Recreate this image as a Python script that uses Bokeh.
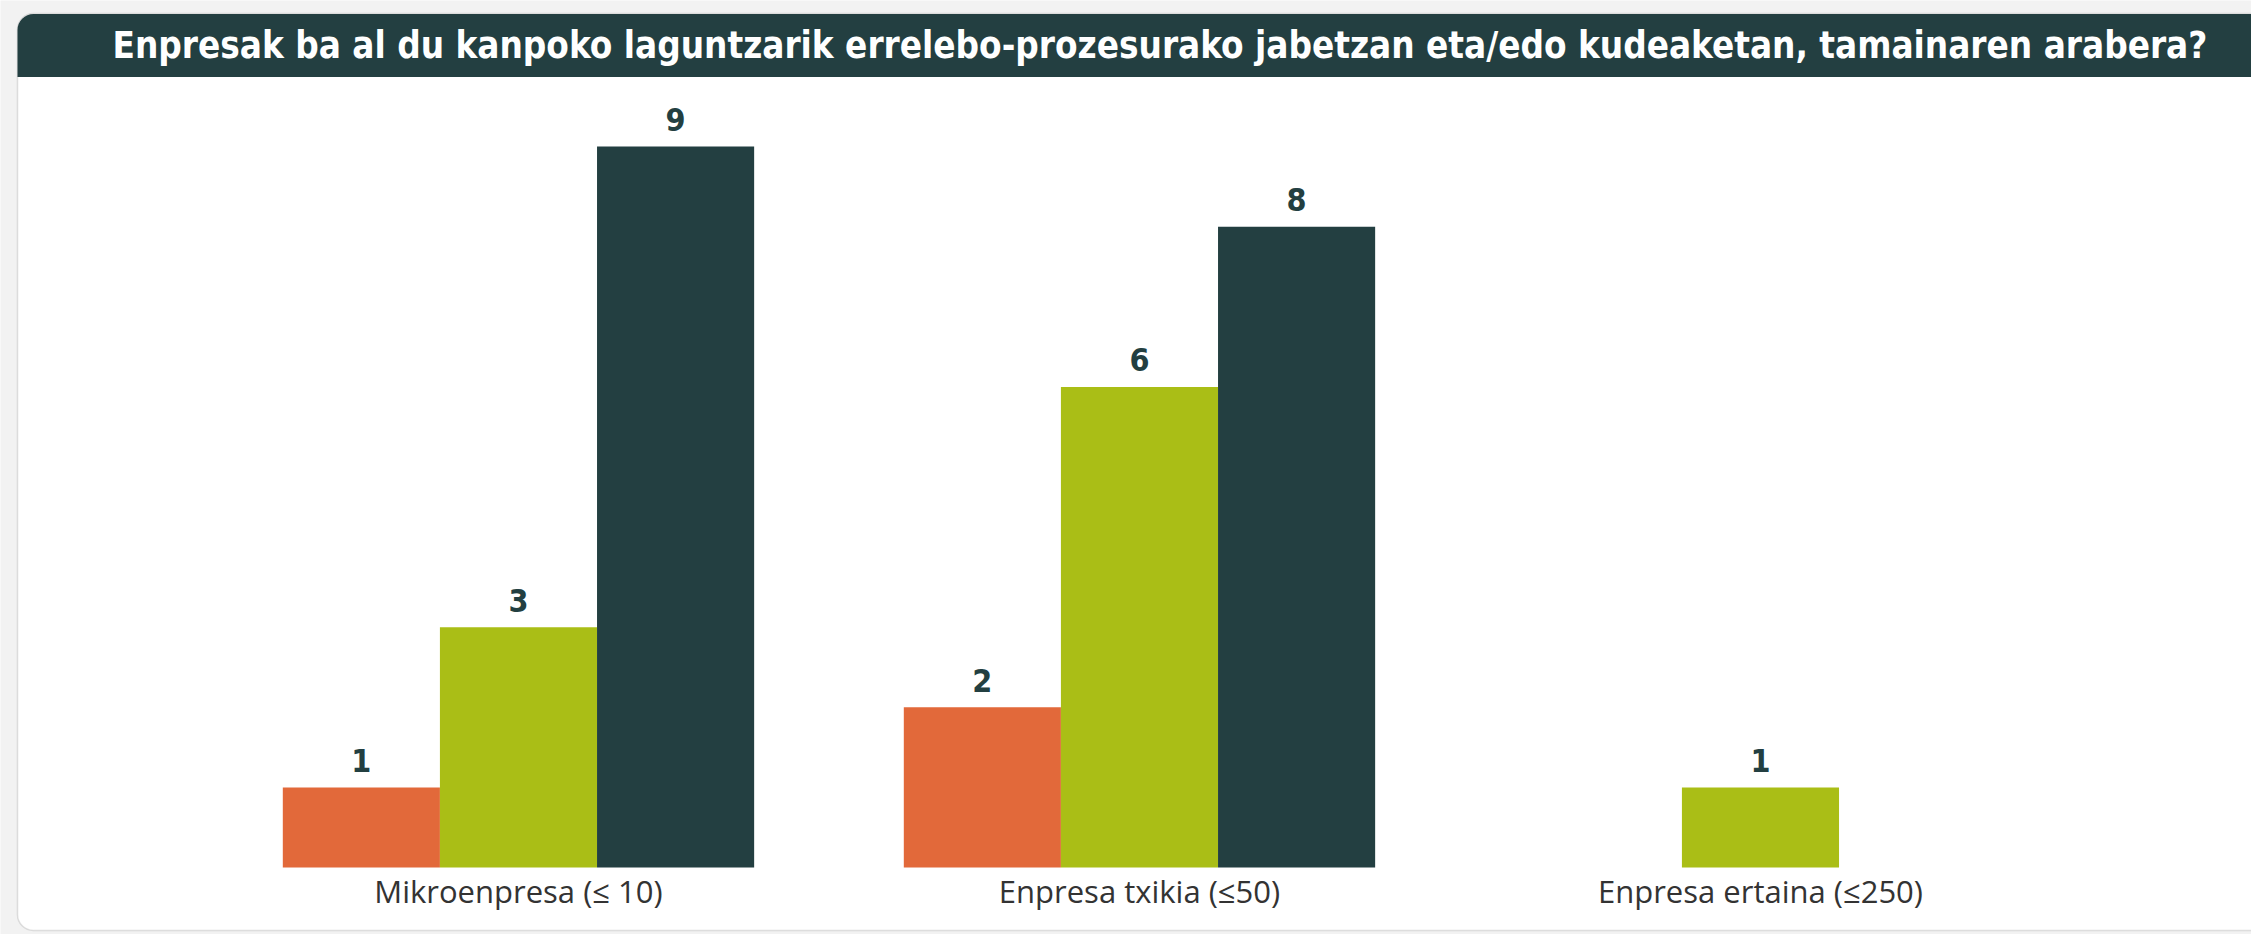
from bokeh.plotting import figure
from bokeh.models import Range1d, ColumnDataSource, Label, BoxAnnotation
from bokeh.transform import dodge
from bokeh.core.properties import value
from bokeh.embed import file_html
from bokeh.resources import INLINE

# ---- data ----
categories = ["Mikroenpresa (≤ 10)", "Enpresa txikia (≤50)", "Enpresa ertaina (≤250)"]
series_orange = [1, 2, None]
series_green = [3, 6, 1]
series_dark = [9, 8, None]
title_text = "Enpresak ba al du kanpoko laguntzarik errelebo-prozesurako jabetzan eta/edo kudeaketan, tamainaren arabera?"

colors = ["#E2693A", "#AABE16", "#233F41"]
series_list = [series_orange, series_green, series_dark]
offsets = [-0.253, 0.0, 0.253]
bar_w = 0.253

W, H = 2251, 934
p = figure(width=W, height=H, x_range=Range1d(-0.8341, 2.7907), y_range=Range1d(-0.8365, 10.824),
           output_backend="svg", toolbar_location=None, title_location=None,
           x_axis_location=None, y_axis_location=None,
           min_border_left=0, min_border_right=0, min_border_top=0, min_border_bottom=0)
p.border_fill_color = "#F2F2F2"
p.background_fill_color = "#F2F2F2"
p.outline_line_color = None
p.xgrid.visible = False
p.ygrid.visible = False

FB = H  # frame bottom in canvas px (frame covers canvas)

# card
card = BoxAnnotation(left=17, right=2400, top=FB - 13, bottom=FB - 930,
                     left_units="screen", right_units="screen", top_units="screen", bottom_units="screen",
                     fill_color="white", fill_alpha=1.0, line_color="#9A9A9A", line_width=1.5,
                     border_radius=dict(top_left=16, top_right=0, bottom_right=0, bottom_left=16),
                     level="underlay")
p.add_layout(card)

for vals, col, off in zip(series_list, colors, offsets):
    idx = [i for i, v in enumerate(vals) if v is not None]
    vs = [vals[i] for i in idx]
    src = ColumnDataSource(dict(xi=idx, val=vs, lab=[str(v) for v in vs]))
    p.vbar(x=dodge("xi", off), top="val", width=bar_w, bottom=0,
           source=src, fill_color=col, line_color=None)
    p.text(x=dodge("xi", off), y="val", text="lab", source=src,
           text_align="center", text_baseline="middle", y_offset=-27,
           text_font=value("DejaVu Sans Condensed"), text_font_style="bold",
           text_font_size="32px", text_color="#233F41")

# category labels
cat_src = ColumnDataSource(dict(xi=list(range(len(categories))), y0=[0] * len(categories), name=categories))
p.text(x="xi", y="y0", text="name", source=cat_src, text_align="center", text_baseline="middle",
       y_offset=24, text_font=value("Open Sans"), text_font_size="31px", text_color="#333333")

# title bar
title = Label(x=17, y=FB - 45, x_units="screen", y_units="screen", text=title_text,
              text_font="DejaVu Sans Condensed", text_font_style="bold", text_font_size="36.5px",
              text_color="white", text_align="left", text_baseline="middle",
              background_fill_color="#233F41", background_fill_alpha=1.0,
              padding=dict(left=95, right=300, top=10, bottom=10),
              border_radius=dict(top_left=16, top_right=0, bottom_right=0, bottom_left=0))
p.add_layout(title)

open("out.html", "w").write(file_html(p, INLINE))
